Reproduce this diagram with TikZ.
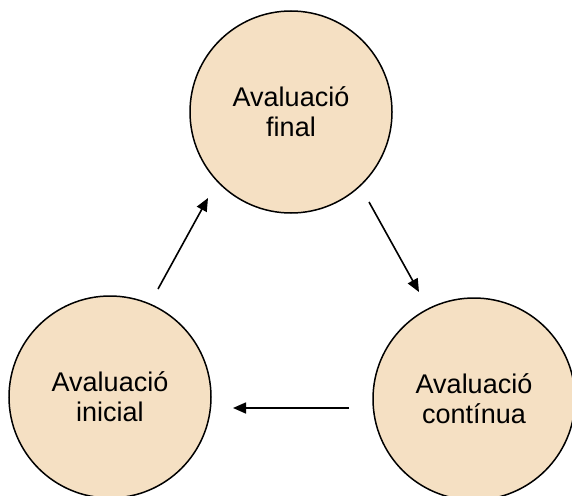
\documentclass[tikz,border=0pt]{standalone}
\usepackage{fontspec}
\setmainfont{Liberation Sans}
\usetikzlibrary{arrows.meta}
\definecolor{beige}{RGB}{245,224,195}
\begin{document}
\begin{tikzpicture}[x=1pt,y=-1pt,
  stage/.style={circle,draw=black,line width=1.5pt,fill=beige,minimum size=202pt,inner sep=0pt,align=center,font=\fontsize{27}{30}\selectfont},
  flow/.style={line width=1.6pt,-{Triangle[length=13pt,width=11pt]}}]
\useasboundingbox (0,0) rectangle (572,495);
\node[stage] (fin) at (291,112) {Avaluació\\final};
\node[stage] (ini) at (110,397) {Avaluació\\inicial};
\node[stage] (cont) at (474,399) {Avaluació\\contínua};
\coordinate (a1) at (158,289);
\coordinate (a2) at (208,198);
\coordinate (b1) at (369,202);
\coordinate (b2) at (419,292);
\coordinate (c1) at (349,408);
\coordinate (c2) at (233,408);
\draw[flow] (a1) -- (a2);
\draw[flow] (b1) -- (b2);
\draw[flow] (c1) -- (c2);
\end{tikzpicture}
\end{document}
